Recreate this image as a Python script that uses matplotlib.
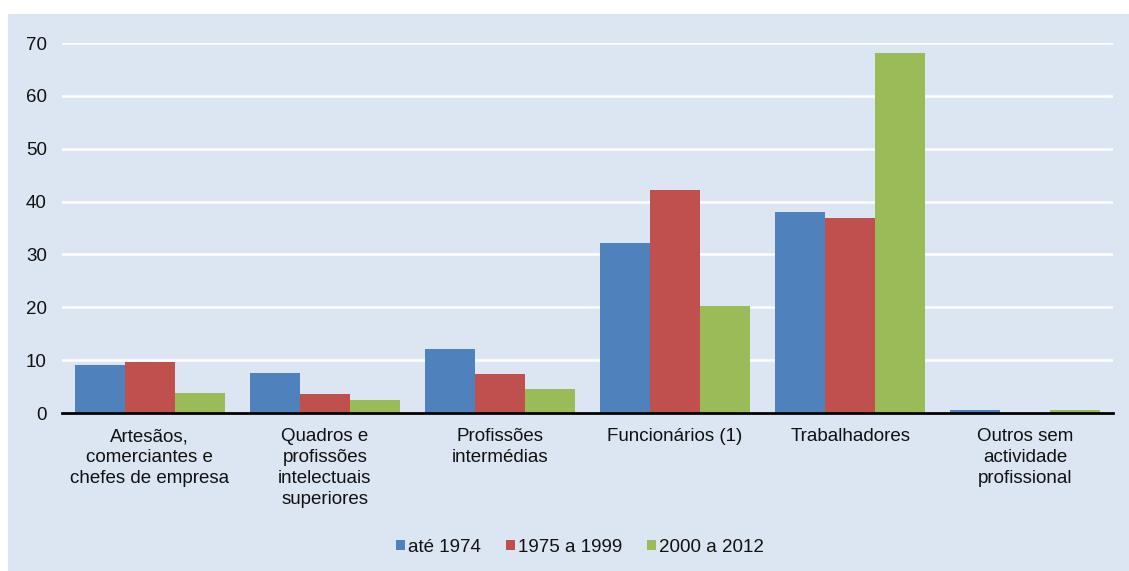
import matplotlib
matplotlib.use("Agg")
import matplotlib.pyplot as plt
import numpy as np
from matplotlib.patches import Rectangle

categories = ["Artesãos,\ncomerciantes e\nchefes de empresa",
              "Quadros e\nprofissões\nintelectuais\nsuperiores",
              "Profissões\nintermédias",
              "Funcionários (1)",
              "Trabalhadores",
              "Outros sem\nactividade\nprofissional"]
series_names = ["até 1974", "1975 a 1999", "2000 a 2012"]
ate_1974 = [9.1, 7.6, 12.1, 32.2, 38.0, 0.6]
de_1975_1999 = [9.6, 3.6, 7.4, 42.2, 36.9, 0.0]
de_2000_2012 = [3.8, 2.5, 4.5, 20.2, 68.1, 0.6]
colors = ["#4F81BD", "#C0504D", "#9BBB59"]
yticks = [0, 10, 20, 30, 40, 50, 60, 70]

plt.rcParams['font.family'] = ['Liberation Sans', 'DejaVu Sans']
bg = "#DCE6F2"
txt = "#111111"
fs = 13.5

fig = plt.figure(figsize=(11.29, 5.71), dpi=100)
fig.patch.set_facecolor("white")
fig.patches.append(Rectangle((8/1129, 0), 1 - 8/1129, 1 - 14/571,
                             transform=fig.transFigure, facecolor=bg,
                             edgecolor="none", zorder=-10))

W, H = 1129, 571
left, right = 62, 1113
top_px, bot_px = 43, 413
ax = fig.add_axes([left / W, 1 - bot_px / H, (right - left) / W, (bot_px - top_px) / H])
ax.set_facecolor(bg)
ax.patch.set_alpha(0)

x = np.arange(len(categories))
bw = 0.2857
for i, (vals, c, name) in enumerate(zip([ate_1974, de_1975_1999, de_2000_2012], colors, series_names)):
    ax.bar(x + (i - 1) * bw, vals, width=bw, color=c, label=name, zorder=3)

ax.set_ylim(0, 70)
ax.set_xlim(-0.5, len(categories) - 0.5)
ax.set_yticks(yticks)
ax.set_yticklabels([str(t) for t in yticks], fontsize=fs, color=txt)
ax.yaxis.grid(True, color="white", linewidth=1.8, zorder=0)
ax.set_axisbelow(True)
ax.tick_params(axis="y", length=0, pad=11)
ax.tick_params(axis="x", length=0, pad=11)
ax.set_xticks(x)
ax.set_xticklabels(categories, fontsize=fs, color=txt, linespacing=1.3, va="top")
for s in ["top", "right", "left"]:
    ax.spines[s].set_visible(False)
ax.spines["bottom"].set_color("black")
ax.spines["bottom"].set_linewidth(2)
ax.spines["bottom"].set_zorder(4)

leg = fig.legend(loc="center", bbox_to_anchor=(580 / W, 1 - 547 / H), ncol=3,
                 frameon=False, fontsize=fs, handlelength=0.48, handleheight=0.48,
                 handletextpad=0.18, columnspacing=1.3)
for t in leg.get_texts():
    t.set_color(txt)

fig.savefig("out.png", dpi=100, facecolor=fig.get_facecolor())
